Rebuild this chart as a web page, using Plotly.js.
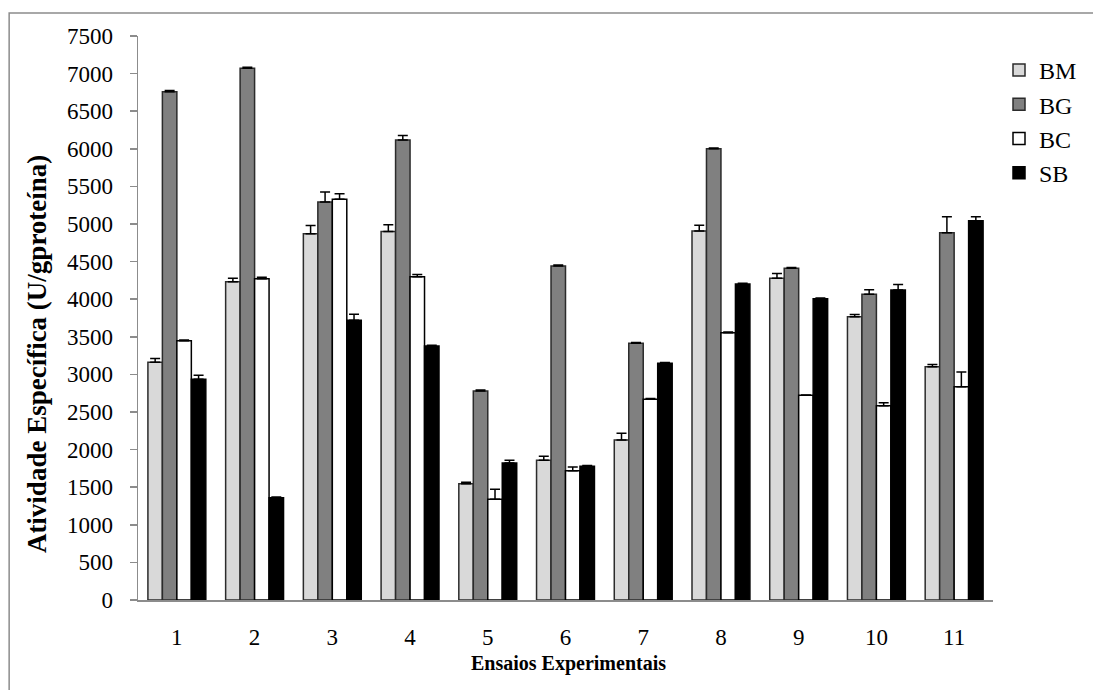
<!DOCTYPE html>
<html>
<head>
<meta charset="utf-8">
<script src="https://cdn.plot.ly/plotly-3.0.1.min.js"></script>
<style>
html,body{margin:0;padding:0;background:#fff;}
#chart{width:1093px;height:690px;}
</style>
</head>
<body>
<div id="chart"></div>
<script>
var categories = ["1","2","3","4","5","6","7","8","9","10","11"];
var seriesNames = ["BM","BG","BC","SB"];
var BM = [3160, 4233, 4871, 4900, 1547, 1858, 2128, 4907, 4278, 3768, 3103];
var BG = [6760, 7070, 5293, 6117, 2779, 4440, 3413, 6000, 4411, 4065, 4885];
var BC = [3448, 4273, 5328, 4300, 1339, 1720, 2669, 3555, 2722, 2584, 2837];
var SB = [2935, 1361, 3719, 3378, 1822, 1780, 3147, 4202, 4007, 4122, 5044];
var BM_err = [50, 45, 110, 90, 20, 55, 90, 75, 65, 30, 30];
var BG_err = [15, 15, 133, 60, 15, 15, 10, 10, 10, 60, 213];
var BC_err = [10, 20, 75, 30, 133, 50, 10, 10, 5, 40, 195];
var SB_err = [55, 10, 80, 10, 37, 10, 10, 10, 10, 75, 53];
var yTicks = [0,500,1000,1500,2000,2500,3000,3500,4000,4500,5000,5500,6000,6500,7000,7500];

var values = [BM, BG, BC, SB];
var errs = [BM_err, BG_err, BC_err, SB_err];
var fills = ["#d9d9d9", "#808080", "#ffffff", "#000000"];
var lines = ["#2b2b2b", "#2b2b2b", "#000000", "#000000"];

var traces = seriesNames.map(function(n, i){
  return {
    type: "bar",
    name: n,
    x: categories,
    y: values[i],
    marker: {color: fills[i], line: {color: lines[i], width: 1.5}},
    error_y: {type: "data", array: errs[i], arrayminus: errs[i].map(function(){return 0;}),
              symmetric: false, visible: true, color: "#000", thickness: 1.5, width: 5}
  };
});

var serif = "Liberation Serif, Times New Roman, serif";
var L = 138, R = 994, T = 36, B = 600;
function px(x){ return (x - L) / (R - L); }
function py(y){ return (B - y) / (B - T); }

var layout = {
  width: 1093, height: 690,
  margin: {l: L, r: 1093 - R, t: T, b: 690 - B, pad: 0},
  paper_bgcolor: "#fff", plot_bgcolor: "#fff",
  barmode: "group", bargap: 0.255, bargroupgap: 0,
  font: {family: serif, color: "#000", size: 22},
  showlegend: true,
  legend: {x: px(999), y: py(48), xanchor: "left", yanchor: "top",
           font: {family: serif, size: 24, color: "#000"}, bgcolor: "rgba(0,0,0,0)",
           tracegroupgap: 0},
  xaxis: {type: "category", showline: true, linecolor: "#8c8c8c", linewidth: 1.5,
          ticks: "", showgrid: false, zeroline: false, tickfont: {family: serif, size: 23},
          ticklabelstandoff: 16},
  yaxis: {range: [0, 7500], tickvals: yTicks, ticktext: yTicks.map(String),
          showline: true, linecolor: "#8c8c8c", linewidth: 1.5,
          ticks: "outside", ticklen: 7, tickcolor: "#8c8c8c", tickwidth: 1.5,
          showgrid: false, zeroline: false, tickfont: {family: serif, size: 23},
          ticklabelstandoff: 12},
  annotations: [
    {text: "<b>Ensaios Experimentais</b>", xref: "paper", yref: "paper",
     x: px(569), y: py(663), xanchor: "center", yanchor: "middle", showarrow: false,
     font: {family: serif, size: 20, color: "#000"}},
    {text: "<b>Atividade Específica (U/gproteína)</b>", xref: "paper", yref: "paper",
     x: px(37), y: py(354), xanchor: "center", yanchor: "middle", showarrow: false,
     textangle: -90, font: {family: serif, size: 27, color: "#000"}}
  ],
  shapes: [
    {type: "path", xref: "paper", yref: "paper",
     path: "M " + px(9) + " " + py(700) + " L " + px(9) + " " + py(13) + " L " + px(1100) + " " + py(13),
     line: {color: "#8c8c8c", width: 1.5}}
  ]
};

Plotly.newPlot("chart", traces, layout, {displayModeBar: false, staticPlot: true});
</script>
</body>
</html>
